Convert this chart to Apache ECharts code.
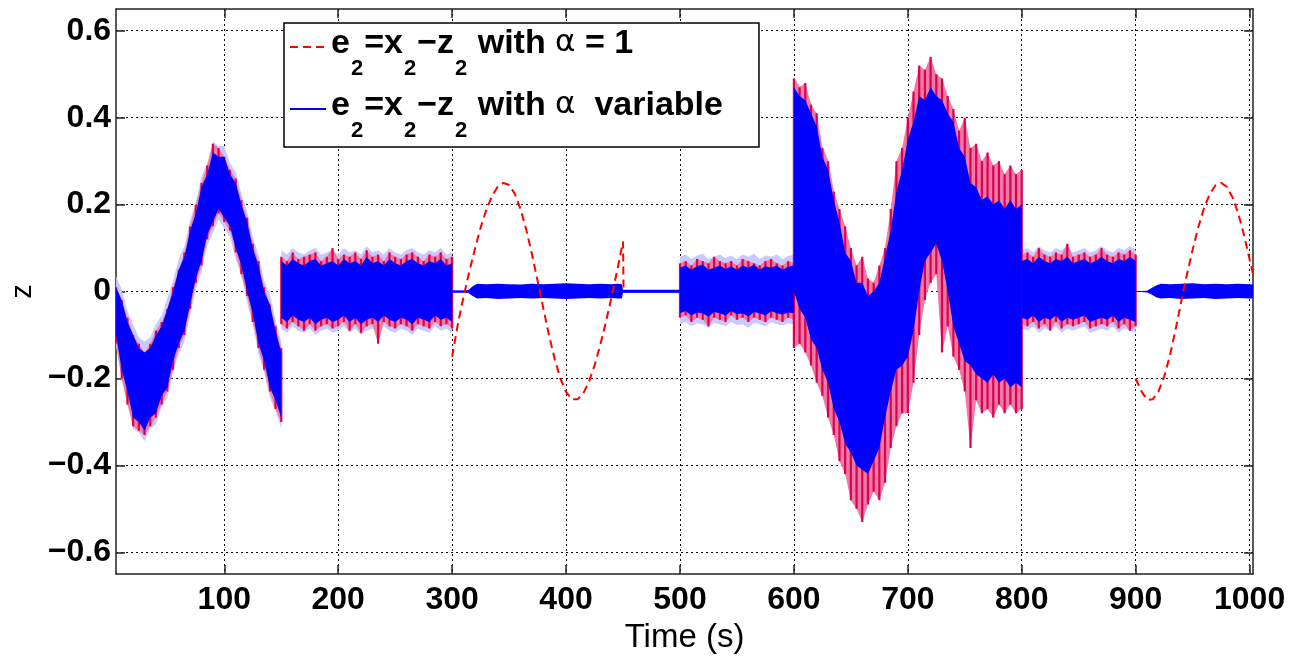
<!DOCTYPE html>
<html><head><meta charset="utf-8">
<script src="https://cdn.jsdelivr.net/npm/echarts@6/dist/echarts.min.js"></script>
<style>html,body{margin:0;padding:0;background:#fff}#c{width:1295px;height:659px}</style>
</head><body><div id="c"></div><script>
// ---- tick labels ----
const xTicks = [100,200,300,400,500,600,700,800,900,1000];
const yTicks = [-0.6,-0.4,-0.2,0,0.2,0.4,0.6];

// ---- segment A (5-150 s): min/max envelopes ----
const tA = [5,10,15,20,25,30,35,40,45,50,55,60,65,70,75,80,85,90,95,100,105,110,115,120,125,130,135,140,145,150];
const blueHiA = [0.01,-0.02,-0.07,-0.10,-0.13,-0.14,-0.13,-0.10,-0.08,-0.04,0.00,0.05,0.08,0.14,0.18,0.24,0.27,0.32,0.31,0.31,0.27,0.25,0.20,0.16,0.10,0.06,0.00,-0.03,-0.09,-0.14];
const blueLoA = [-0.10,-0.18,-0.23,-0.29,-0.30,-0.32,-0.29,-0.28,-0.24,-0.22,-0.16,-0.12,-0.09,-0.03,0.03,0.07,0.13,0.16,0.19,0.17,0.15,0.10,0.06,0.00,-0.05,-0.12,-0.16,-0.22,-0.25,-0.29];
const redHiA = [0.01,-0.02,-0.06,-0.10,-0.12,-0.14,-0.12,-0.09,-0.07,-0.04,0.01,0.05,0.09,0.15,0.20,0.25,0.29,0.34,0.33,0.31,0.28,0.26,0.21,0.17,0.11,0.07,0.01,-0.03,-0.08,-0.13];
const redLoA = [-0.12,-0.20,-0.26,-0.31,-0.32,-0.33,-0.31,-0.29,-0.26,-0.23,-0.18,-0.13,-0.10,-0.04,0.02,0.06,0.12,0.15,0.18,0.16,0.14,0.09,0.04,-0.01,-0.07,-0.13,-0.18,-0.23,-0.27,-0.30];

// ---- segment B (150-300 s) ----
const tB = [150,155,160,165,170,175,180,185,190,195,200,205,210,215,220,225,230,235,240,245,250,255,260,265,270,275,280,285,290,295,300];
const blueHiB = [0.07,0.06,0.075,0.065,0.06,0.07,0.075,0.06,0.065,0.07,0.06,0.075,0.065,0.07,0.06,0.08,0.065,0.07,0.06,0.075,0.065,0.06,0.07,0.075,0.065,0.06,0.07,0.065,0.075,0.06,0.065];
const blueLoB = [-0.06,-0.07,-0.055,-0.065,-0.07,-0.06,-0.075,-0.065,-0.06,-0.07,-0.065,-0.055,-0.07,-0.06,-0.075,-0.065,-0.06,-0.07,-0.055,-0.065,-0.07,-0.06,-0.065,-0.075,-0.06,-0.065,-0.07,-0.055,-0.065,-0.06,-0.07];
const redHiB = [0.08,0.07,0.09,0.075,0.08,0.085,0.09,0.07,0.08,0.10,0.075,0.085,0.08,0.09,0.075,0.095,0.08,0.085,0.07,0.09,0.08,0.075,0.085,0.09,0.08,0.07,0.085,0.08,0.09,0.075,0.08];
const redLoB = [-0.075,-0.085,-0.07,-0.08,-0.09,-0.075,-0.09,-0.08,-0.075,-0.085,-0.08,-0.07,-0.09,-0.075,-0.095,-0.08,-0.075,-0.12,-0.07,-0.08,-0.085,-0.075,-0.08,-0.09,-0.075,-0.08,-0.085,-0.07,-0.08,-0.075,-0.085];

// ---- segment C (300-500 s), alpha variable only ----
const tC = [300,305,310,314,318,322,330,340,350,360,370,380,390,400,410,420,430,440,445,449,450,460,470,480,490,500];
const blueHiC = [0.002,0.002,0.002,0.003,0.012,0.018,0.017,0.018,0.017,0.016,0.018,0.017,0.018,0.019,0.018,0.017,0.018,0.017,0.018,0.017,0.004,0.004,0.004,0.004,0.004,0.004];
const blueLoC = [-0.002,-0.002,-0.002,-0.003,-0.010,-0.016,-0.015,-0.017,-0.016,-0.015,-0.016,-0.015,-0.016,-0.017,-0.016,-0.015,-0.016,-0.015,-0.016,-0.016,-0.003,-0.003,-0.003,-0.003,-0.003,-0.003];

// ---- segment D (500-600 s) ----
const tD = [500,505,510,515,520,525,530,535,540,545,550,555,560,565,570,575,580,585,590,595,600];
const blueHiD = [0.055,0.06,0.05,0.058,0.062,0.05,0.055,0.06,0.052,0.058,0.05,0.06,0.055,0.062,0.05,0.058,0.055,0.06,0.05,0.057,0.06];
const blueLoD = [-0.05,-0.045,-0.055,-0.048,-0.05,-0.058,-0.047,-0.05,-0.055,-0.045,-0.052,-0.05,-0.058,-0.047,-0.05,-0.055,-0.045,-0.05,-0.053,-0.048,-0.05];
const redHiD = [0.065,0.07,0.06,0.075,0.07,0.065,0.08,0.07,0.065,0.07,0.06,0.075,0.07,0.065,0.06,0.07,0.075,0.065,0.06,0.07,0.065];
const redLoD = [-0.06,-0.055,-0.07,-0.06,-0.065,-0.08,-0.06,-0.065,-0.07,-0.055,-0.065,-0.06,-0.07,-0.06,-0.065,-0.07,-0.06,-0.065,-0.07,-0.06,-0.065];

// ---- segment E (600-800 s) ----
const tE = [600,605,610,615,620,625,630,635,640,645,650,655,660,665,670,675,680,685,690,695,700,705,710,715,720,725,730,735,740,745,750,755,760,765,770,775,780,785,790,795,800];
const blueHiE = [0.47,0.45,0.44,0.41,0.38,0.31,0.28,0.21,0.16,0.09,0.07,0.02,0.02,-0.01,0.00,0.02,0.08,0.14,0.23,0.28,0.35,0.39,0.45,0.44,0.47,0.45,0.44,0.41,0.39,0.33,0.31,0.25,0.24,0.21,0.22,0.20,0.21,0.19,0.21,0.19,0.20];
const blueLoE = [0.0,-0.04,-0.06,-0.11,-0.13,-0.18,-0.21,-0.27,-0.30,-0.35,-0.37,-0.40,-0.41,-0.42,-0.39,-0.36,-0.29,-0.23,-0.18,-0.17,-0.15,-0.09,0.0,0.07,0.09,0.11,0.07,0.0,-0.08,-0.12,-0.16,-0.17,-0.19,-0.20,-0.21,-0.19,-0.21,-0.20,-0.22,-0.21,-0.22];
const redHiE = [0.49,0.47,0.48,0.43,0.41,0.33,0.30,0.23,0.19,0.15,0.10,0.06,0.08,0.03,0.02,0.06,0.10,0.19,0.30,0.33,0.40,0.46,0.52,0.51,0.54,0.50,0.49,0.45,0.42,0.37,0.40,0.33,0.34,0.30,0.32,0.29,0.30,0.27,0.29,0.27,0.28];
const redLoE = [-0.13,-0.12,-0.14,-0.17,-0.21,-0.24,-0.29,-0.33,-0.39,-0.42,-0.48,-0.50,-0.53,-0.49,-0.46,-0.48,-0.44,-0.36,-0.31,-0.28,-0.28,-0.21,-0.10,-0.02,0.02,0.04,-0.14,-0.08,-0.15,-0.18,-0.23,-0.36,-0.25,-0.28,-0.27,-0.29,-0.26,-0.28,-0.26,-0.28,-0.27];

// ---- segment F (800-900 s) ----
const tF = [800,805,810,815,820,825,830,835,840,845,850,855,860,865,870,875,880,885,890,895,900];
const blueHiF = [0.07,0.075,0.065,0.08,0.07,0.065,0.075,0.07,0.08,0.065,0.07,0.075,0.065,0.07,0.08,0.07,0.065,0.075,0.07,0.08,0.07];
const blueLoF = [-0.06,-0.065,-0.055,-0.07,-0.06,-0.065,-0.055,-0.07,-0.06,-0.065,-0.06,-0.055,-0.07,-0.065,-0.06,-0.065,-0.055,-0.07,-0.06,-0.065,-0.07];
const redHiF = [0.085,0.09,0.08,0.10,0.085,0.08,0.09,0.085,0.11,0.08,0.085,0.09,0.08,0.085,0.10,0.085,0.08,0.09,0.085,0.095,0.085];
const redLoF = [-0.075,-0.08,-0.07,-0.085,-0.075,-0.09,-0.07,-0.085,-0.075,-0.08,-0.075,-0.07,-0.085,-0.08,-0.075,-0.08,-0.07,-0.085,-0.075,-0.09,-0.08];

// ---- segment G (900-1003 s), alpha variable only ----
const tG = [900,905,910,914,918,922,930,940,950,960,970,980,990,1000,1003];
const blueHiG = [0.001,0.001,0.002,0.008,0.014,0.018,0.017,0.018,0.019,0.017,0.018,0.017,0.018,0.017,0.017];
const blueLoG = [-0.001,-0.001,-0.002,-0.007,-0.013,-0.016,-0.015,-0.017,-0.016,-0.015,-0.017,-0.016,-0.015,-0.016,-0.016];

// ---- clean alpha = 1 response (dashed red) ----
const redT1 = [300,305,310,315,320,325,330,335,340,345,350,355,360,365,370,375,380,385,390,395,400,405,410,415,420,425,430,435,440,445,450,450.5];
const redV1 = [-0.15,-0.075,-0.012,0.045,0.098,0.147,0.188,0.22,0.241,0.25,0.245,0.225,0.19,0.143,0.087,0.025,-0.038,-0.10,-0.155,-0.20,-0.231,-0.248,-0.248,-0.235,-0.208,-0.17,-0.123,-0.07,-0.012,0.05,0.115,0.0];
const redT2 = [900,905,910,915,920,925,930,935,940,945,950,955,960,965,970,975,980,985,990,995,1000,1003];
const redV2 = [-0.20,-0.229,-0.249,-0.248,-0.23,-0.196,-0.148,-0.088,-0.023,0.039,0.096,0.148,0.192,0.224,0.244,0.25,0.241,0.217,0.18,0.131,0.074,0.04];

// ---- alpha variable, flat part ----
const blueLineT = [300,500];
const blueLineV = [0,0];

const nameRed = 'e2=x2\u2212z2 with \u03b1 = 1';
const nameBlue = 'e2=x2\u2212z2 with \u03b1  variable';

// ---- build structures ----
const zip = (t, v) => t.map((x, i) => [x, v[i]]);
const seg = (t, hi, lo) => ({t: t, hi: hi, lo: lo});
const blueSegs = [seg(tA,blueHiA,blueLoA), seg(tB,blueHiB,blueLoB), seg(tC,blueHiC,blueLoC), seg(tD,blueHiD,blueLoD), seg(tE,blueHiE,blueLoE), seg(tF,blueHiF,blueLoF), seg(tG,blueHiG,blueLoG)];
const haloSegs = [blueSegs[0], blueSegs[1], blueSegs[3], blueSegs[4], blueSegs[5]];
const redSegs = [seg(tA,redHiA,redLoA), seg(tB,redHiB,redLoB), seg(tD,redHiD,redLoD), seg(tE,redHiE,redLoE), seg(tF,redHiF,redLoF)];
const HALO = 0.025;

function bandPoints(api, s, pad) {
  const pts = [];
  for (let i = 0; i < s.t.length; i++) pts.push(api.coord([s.t[i], s.hi[i] + pad]));
  for (let i = s.t.length - 1; i >= 0; i--) pts.push(api.coord([s.t[i], s.lo[i] - pad]));
  return pts;
}
function segData(segs) { return segs.map(s => [s.t[0], s.hi[0]]); }

const FONT = 'Liberation Sans';
const frame = {color: '#222', width: 1.5};

const chart = echarts.init(document.getElementById('c'));
chart.setOption({
  animation: false,
  backgroundColor: '#fff',
  grid: {left: 112, right: 42, top: 9, bottom: 77},
  legend: {
    data: [nameRed, nameBlue],
    orient: 'vertical', left: 284, top: 23,
    padding: [4, 36, 5, 5], itemGap: 9, itemWidth: 36, itemHeight: 14,
    backgroundColor: '#fff', borderColor: '#000', borderWidth: 1.5, borderRadius: 0,
    itemStyle: {opacity: 0},
    selectedMode: false,
    formatter: function (n) {
      const head = '{m|e}{s|2}{m|=x}{s|2}{m|\u2212z}{s|2}{m| with }{a|\u03b1}';
      return n === nameRed ? head + '{m| = 1}' : head + '{m|  variable}';
    },
    textStyle: {
      color: '#000',
      rich: {
        m: {fontFamily: FONT, fontWeight: 'bold', fontSize: 34, lineHeight: 40, verticalAlign: 'top', color: '#000'},
        s: {fontFamily: FONT, fontWeight: 'bold', fontSize: 22, lineHeight: 22, verticalAlign: 'top', padding: [31, 1, 0, 1], color: '#000'},
        a: {fontFamily: 'DejaVu Sans', fontSize: 31, lineHeight: 40, verticalAlign: 'top', color: '#000'}
      }
    }
  },
  xAxis: [{
    type: 'value', min: 5, max: 1003, position: 'bottom',
    axisLine: {show: true, onZero: false, lineStyle: frame},
    axisTick: {show: true, inside: true, length: 9, customValues: xTicks, lineStyle: frame},
    axisLabel: {customValues: xTicks, margin: 10, fontFamily: FONT, fontWeight: 'bold', fontSize: 32, color: '#000',
      formatter: v => String(v)},
    splitLine: {show: true, lineStyle: {color: '#000', width: 1, type: [2, 3]}},
    name: 'Time (s)', nameLocation: 'middle', nameGap: 38,
    nameTextStyle: {fontFamily: FONT, fontSize: 33, color: '#000'}
  }, {
    type: 'value', min: 5, max: 1003, position: 'top',
    axisLine: {show: true, onZero: false, lineStyle: frame},
    axisTick: {show: true, inside: true, length: 9, customValues: xTicks, lineStyle: frame},
    axisLabel: {show: false}, splitLine: {show: false}
  }],
  yAxis: [{
    type: 'value', min: -0.65, max: 0.65, position: 'left',
    axisLine: {show: true, onZero: false, lineStyle: frame},
    axisTick: {show: true, inside: true, length: 9, customValues: yTicks, lineStyle: frame},
    axisLabel: {customValues: yTicks, margin: 5, fontFamily: FONT, fontWeight: 'bold', fontSize: 32, color: '#000',
      formatter: v => (v < 0 ? '\u2212' : '') + Math.abs(v)},
    splitLine: {show: true, lineStyle: {color: '#000', width: 1, type: [2, 3]}},
    name: 'z', nameLocation: 'middle', nameRotate: 90, nameGap: 76,
    nameTextStyle: {fontFamily: FONT, fontSize: 29, color: '#000'}
  }, {
    type: 'value', min: -0.65, max: 0.65, position: 'right',
    axisLine: {show: true, onZero: false, lineStyle: frame},
    axisTick: {show: true, inside: true, length: 9, customValues: yTicks, lineStyle: frame},
    axisLabel: {show: false}, splitLine: {show: false}
  }],
  series: [
    {type: 'line', name: nameRed, data: zip(redT1, redV1), symbol: 'none', z: 5,
     itemStyle: {color: '#ff0000'}, lineStyle: {color: '#ff0000', width: 2, type: [8, 5]}},
    {type: 'line', name: nameRed, data: zip(redT2, redV2), symbol: 'none', z: 5,
     itemStyle: {color: '#ff0000'}, lineStyle: {color: '#ff0000', width: 2, type: [8, 5]}},
    {type: 'line', name: nameBlue, data: zip(blueLineT, blueLineV), symbol: 'none', z: 4,
     itemStyle: {color: '#0000ff'}, lineStyle: {color: '#0000ff', width: 2}},
    {type: 'custom', name: 'halo', z: 1, silent: true, data: segData(haloSegs), encode: {x: 0, y: 1},
     renderItem: (p, api) => ({type: 'polygon', shape: {points: bandPoints(api, haloSegs[p.dataIndex], HALO)}, style: {fill: '#c9c9ff'}})},
    {type: 'custom', name: 'redBand', z: 2, silent: true, data: segData(redSegs), encode: {x: 0, y: 1},
     renderItem: (p, api) => {
       const s = redSegs[p.dataIndex];
       const children = [{type: 'polygon', shape: {points: bandPoints(api, s, 0)}, style: {fill: '#ee7ba4'}}];
       for (let i = 0; i < s.t.length; i++) {
         const a = api.coord([s.t[i], s.lo[i]]), b = api.coord([s.t[i], s.hi[i]]);
         children.push({type: 'line', shape: {x1: a[0], y1: a[1], x2: b[0], y2: b[1]}, style: {stroke: '#dc0055', lineWidth: 2.2}});
       }
       return {type: 'group', children: children};
     }},
    {type: 'custom', name: 'blueBand', z: 3, silent: true, data: segData(blueSegs), encode: {x: 0, y: 1},
     renderItem: (p, api) => ({type: 'polygon', shape: {points: bandPoints(api, blueSegs[p.dataIndex], 0)}, style: {fill: '#0000ff'}})}
  ]
});
</script></body></html>
